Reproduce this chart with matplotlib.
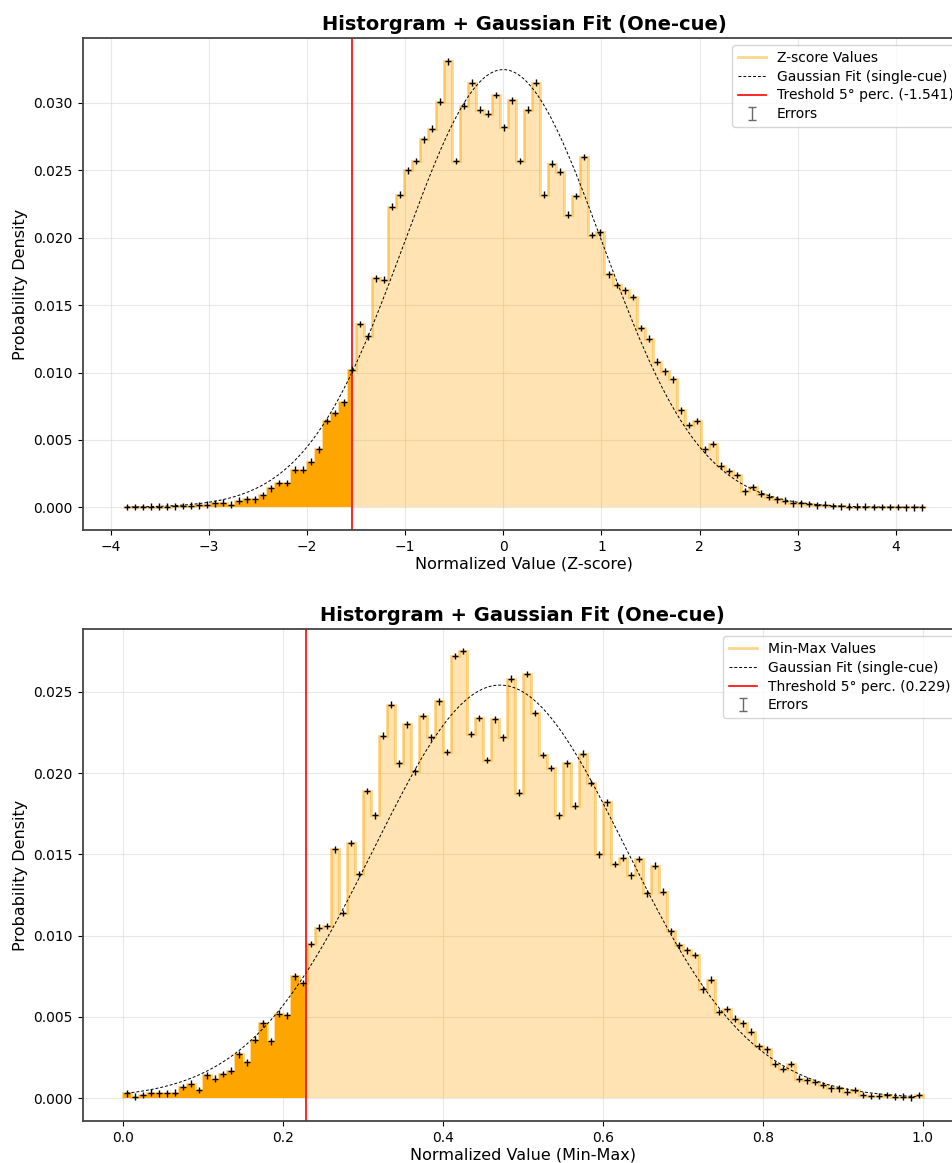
import numpy as np
import matplotlib
matplotlib.use("Agg")
import matplotlib.pyplot as plt

# bin probabilities (100 bins each)
z_edges_range = (-3.878, 4.303)
z_values = [
    0.00002, 0.00002, 0.00003, 0.00004, 0.00005, 0.00006, 0.00008, 0.0001, 0.00012, 0.00015,
    0.0002, 0.0003, 0.00035, 0.0002, 0.0005, 0.0006, 0.0006, 0.0009, 0.0014, 0.0018,
    0.0018, 0.0028, 0.0028, 0.0034, 0.0043, 0.0064, 0.0070, 0.0078, 0.0102, 0.0136,
    0.0127, 0.0170, 0.0169, 0.0223, 0.0232, 0.0250, 0.0257, 0.0273, 0.0281, 0.0301,
    0.0331, 0.0257, 0.0298, 0.0315, 0.0295, 0.0292, 0.0306, 0.0282, 0.0302, 0.0257,
    0.0295, 0.0315, 0.0232, 0.0255, 0.0249, 0.0217, 0.0231, 0.0260, 0.0202, 0.0204,
    0.0173, 0.0165, 0.0161, 0.0156, 0.0133, 0.0125, 0.0108, 0.0101, 0.0095, 0.0072,
    0.0061, 0.0064, 0.0043, 0.0047, 0.0031, 0.0027, 0.0024, 0.0012, 0.0015, 0.0010,
    0.0008, 0.0006, 0.0005, 0.0003, 0.0003, 0.00025, 0.00015, 0.0002, 0.0001, 0.00008,
    0.00006, 0.00005, 0.00004, 0.00003, 0.00003, 0.00002, 0.00002, 0.00001, 0.00001, 0.00001,
]
z_err = 0.00025
z_mu, z_sigma = 0.0, 1.005
z_thr = -1.541

mm_edges_range = (0.0, 1.0)
mm_values = [
    0.0003, 0.0001, 0.0002, 0.00035, 0.0003, 0.0003, 0.00035, 0.0007, 0.0009, 0.0005,
    0.0014, 0.0012, 0.0015, 0.0017, 0.0027, 0.0022, 0.0036, 0.0046, 0.0035, 0.0052,
    0.0051, 0.0075, 0.0071, 0.0095, 0.0105, 0.0106, 0.0153, 0.0114, 0.0157, 0.0138,
    0.0189, 0.0174, 0.0223, 0.0242, 0.0206, 0.0230, 0.0201, 0.0235, 0.0222, 0.0244,
    0.0213, 0.0272, 0.0275, 0.0224, 0.0234, 0.0208, 0.0233, 0.0222, 0.0258, 0.0188,
    0.0261, 0.0237, 0.0211, 0.0203, 0.0174, 0.0206, 0.0180, 0.0212, 0.0194, 0.0150,
    0.0182, 0.0144, 0.0148, 0.0137, 0.0147, 0.0126, 0.0143, 0.0127, 0.0103, 0.0094,
    0.0091, 0.0088, 0.0067, 0.0073, 0.0053, 0.0055, 0.0049, 0.0046, 0.0041, 0.0032,
    0.0030, 0.0021, 0.0018, 0.0021, 0.0012, 0.0011, 0.0010, 0.0008, 0.0006, 0.0006,
    0.0004, 0.0005, 0.0002, 0.00015, 0.00015, 0.0002, 0.0001, 0.0001, 0.00005, 0.0002,
]
mm_err = 0.0002
mm_mu, mm_sigma = 0.4716, 0.157
mm_thr = 0.229


def draw_panel(ax, rng, values, err, mu, sigma, thr, val_label, thr_label, xlabel):
    values = np.array(values)
    edges = np.linspace(rng[0], rng[1], len(values) + 1)
    centers = 0.5 * (edges[:-1] + edges[1:])
    bw = edges[1] - edges[0]

    # light fill + outline
    ax.stairs(values, edges, fill=True, color="orange", alpha=0.3, lw=0)
    ax.stairs(values, edges, color="orange", alpha=0.45, lw=2, label=val_label)

    # dark fill below the threshold
    mask = edges[:-1] < thr
    xs = np.append(edges[:-1][mask], thr)
    ys = np.append(values[mask], values[mask][-1])
    ax.fill_between(xs, ys, step="post", color="orange", lw=0)

    # gaussian fit
    xg = np.linspace(centers[0], centers[-1], 400)
    yg = bw * np.exp(-0.5 * ((xg - mu) / sigma) ** 2) / (sigma * np.sqrt(2 * np.pi))
    ax.plot(xg, yg, color="black", lw=0.7, ls=(0, (3, 2)), label="Gaussian Fit (single-cue)")

    ax.axvline(thr, color="red", lw=1.2, label=thr_label)

    # errors drawn as small crosses
    ax.errorbar(centers, values, yerr=err, fmt="none", ecolor="black", elinewidth=1, capsize=0)
    ax.plot(centers, values, "_", color="black", ms=5, mew=1)
    ax.errorbar([np.nan], [np.nan], yerr=[0], fmt="none", ecolor="dimgray",
                elinewidth=1, capsize=3, label="Errors")

    ax.set_title("Historgram + Gaussian Fit (One-cue)", fontsize=14, fontweight="bold")
    ax.set_xlabel(xlabel, fontsize=11.5, labelpad=2)
    ax.set_ylabel("Probability Density", fontsize=11.5)
    ax.tick_params(labelsize=10)
    ax.grid(True, color="lightgray", alpha=0.5, lw=0.8)
    ax.set_axisbelow(True)
    for s in ax.spines.values():
        s.set_color("#444444")
        s.set_linewidth(1.3)
    ax.legend(loc="upper right", fontsize=10, labelspacing=0.35)


fig = plt.figure(figsize=(9.53, 11.63), dpi=100)
ax1 = fig.add_axes([0.0868, 0.5443, 0.927, 0.4228])
ax2 = fig.add_axes([0.0868, 0.0361, 0.9234, 0.4228])

draw_panel(ax1, z_edges_range, z_values, z_err, z_mu, z_sigma, z_thr,
           "Z-score Values", "Treshold 5° perc. (-1.541)", "Normalized Value (Z-score)")
ax1.set_xlim(-4.285, 4.715)
ax1.set_ylim(-0.00168, 0.0348)

draw_panel(ax2, mm_edges_range, mm_values, mm_err, mm_mu, mm_sigma, mm_thr,
           "Min-Max Values", "Threshold 5° perc. (0.229)", "Normalized Value (Min-Max)")
ax2.set_xlim(-0.05, 1.05)
ax2.set_ylim(-0.0014, 0.02884)

fig.savefig("out.png", dpi=100)
